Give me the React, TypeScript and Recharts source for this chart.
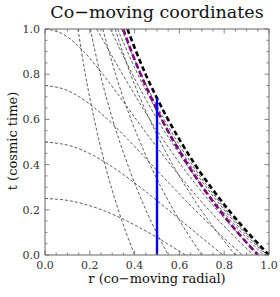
import { LineChart, Line, XAxis, YAxis } from "recharts";

// tick positions (minor every 0.05, labelled every 0.2)
const axisTicks = [0, 0.05, 0.1, 0.15, 0.2, 0.25, 0.3, 0.35, 0.4, 0.45, 0.5, 0.55, 0.6, 0.65, 0.7, 0.75, 0.8, 0.85, 0.9, 0.95, 1];
const majorTicks = [0, 0.2, 0.4, 0.6, 0.8, 1];

// curves as [r, t] pairs
const horizon = [[0.368, 1], [0.407, 0.9], [0.449, 0.8], [0.497, 0.7], [0.549, 0.6], [0.607, 0.5], [0.67, 0.4], [0.741, 0.3], [0.819, 0.2], [0.905, 0.1], [1, 0]];
const purpleCurve = [[0.349, 1], [0.386, 0.9], [0.427, 0.8], [0.472, 0.7], [0.521, 0.6], [0.576, 0.5], [0.637, 0.4], [0.704, 0.3], [0.778, 0.2], [0.86, 0.1], [0.95, 0]];
const galaxy = [[0.5, 0], [0.5, 0.693]];

const fixedA = [[0.147, 1], [0.18, 0.8], [0.22, 0.6], [0.268, 0.4], [0.327, 0.2], [0.4, 0]];
const fixedB = [[0.202, 1], [0.247, 0.8], [0.302, 0.6], [0.369, 0.4], [0.45, 0.2], [0.55, 0]];
const fixedC = [[0.258, 1], [0.315, 0.8], [0.384, 0.6], [0.469, 0.4], [0.573, 0.2], [0.7, 0]];
const fixedD = [[0.313, 1], [0.382, 0.8], [0.467, 0.6], [0.57, 0.4], [0.696, 0.2], [0.85, 0]];

const slice1 = [[0, 0.25], [0.111, 0.24], [0.176, 0.225], [0.253, 0.2], [0.367, 0.15], [0.461, 0.1], [0.546, 0.05], [0.627, 0]];
const slice2 = [[0, 0.5], [0.123, 0.48], [0.197, 0.45], [0.285, 0.4], [0.425, 0.3], [0.55, 0.2], [0.671, 0.1], [0.795, 0]];
const slice3 = [[0, 0.75], [0.095, 0.73], [0.153, 0.7], [0.222, 0.65], [0.28, 0.6], [0.381, 0.5], [0.476, 0.4], [0.571, 0.3], [0.669, 0.2], [0.772, 0.1], [0.881, 0]];
const slice4 = [[0, 1], [0.075, 0.98], [0.12, 0.95], [0.173, 0.9], [0.258, 0.8], [0.334, 0.7], [0.407, 0.6], [0.482, 0.5], [0.56, 0.4], [0.643, 0.3], [0.731, 0.2], [0.827, 0.1], [0.93, 0]];
const slice5 = [[0.231, 1], [0.288, 0.9], [0.346, 0.8], [0.406, 0.7], [0.468, 0.6], [0.535, 0.5], [0.606, 0.4], [0.683, 0.3], [0.767, 0.2], [0.858, 0.1], [0.958, 0]];
const slice6 = [[0.292, 1], [0.34, 0.9], [0.39, 0.8], [0.444, 0.7], [0.501, 0.6], [0.564, 0.5], [0.632, 0.4], [0.706, 0.3], [0.788, 0.2], [0.877, 0.1], [0.975, 0]];
const slice7 = [[0.324, 1], [0.414, 0.8], [0.521, 0.6], [0.647, 0.4], [0.8, 0.2], [0.888, 0.1], [0.985, 0]];
const slice8 = [[0.342, 1], [0.429, 0.8], [0.532, 0.6], [0.657, 0.4], [0.808, 0.2], [0.895, 0.1], [0.991, 0]];

const thinCurves = [fixedA, fixedB, fixedC, fixedD, slice1, slice2, slice3, slice4, slice5, slice6, slice7, slice8];

const toRows = (pts: number[][]) => pts.map(([r, t]) => ({ r, t }));

const frame = "#666";
const serif = "'DejaVu Serif', serif";

function FrameTick(props: any) {
  const { x, y, payload, side } = props;
  const v = payload.value;
  const major = majorTicks.some((m) => Math.abs(m - v) < 1e-6);
  const len = major ? 4.5 : 2.5;
  const label = major ? v.toFixed(1) : null;
  if (side === "bottom")
    return (
      <g>
        <line x1={x} x2={x} y1={y} y2={y - len} stroke={frame} strokeWidth={0.8} />
        {label && <text x={x} y={y + 13.5} textAnchor="middle" fontSize={11} fontFamily={serif} fill="#333">{label}</text>}
      </g>
    );
  if (side === "top")
    return <line x1={x} x2={x} y1={y} y2={y + len} stroke={frame} strokeWidth={0.8} />;
  if (side === "left")
    return (
      <g>
        <line x1={x} x2={x + len} y1={y} y2={y} stroke={frame} strokeWidth={0.8} />
        {label && <text x={x - 5} y={y + 4} textAnchor="end" fontSize={11} fontFamily={serif} fill="#333">{label}</text>}
      </g>
    );
  return <line x1={x} x2={x - len} y1={y} y2={y} stroke={frame} strokeWidth={0.8} />;
}

export default function App() {
  return (
    <div style={{ position: "absolute", left: 0, top: 0, width: 280, height: 297, background: "#fff" }}>
      <div style={{ position: "absolute", left: 0, top: 0, width: 314, textAlign: "center", fontFamily: serif, fontSize: 17.5, lineHeight: "24px", color: "#111" }}>
        Co−moving coordinates
      </div>
      <LineChart width={280} height={297} margin={{ top: 0, right: 0, bottom: 0, left: 0 }}>
        <XAxis xAxisId="b" dataKey="r" type="number" domain={[0, 1]} ticks={axisTicks} interval={0} height={42}
          allowDataOverflow stroke={frame} tickSize={0} tickMargin={0} tick={(p: any) => <FrameTick {...p} side="bottom" />} />
        <XAxis xAxisId="tp" orientation="top" dataKey="r" type="number" domain={[0, 1]} ticks={axisTicks} interval={0} height={29}
          allowDataOverflow stroke={frame} tickSize={0} tickMargin={0} tick={(p: any) => <FrameTick {...p} side="top" />} />
        <YAxis yAxisId="l" type="number" domain={[0, 1]} ticks={axisTicks} interval={0} width={45}
          allowDataOverflow stroke={frame} tickSize={0} tickMargin={0} tick={(p: any) => <FrameTick {...p} side="left" />} />
        <YAxis yAxisId="rt" orientation="right" type="number" domain={[0, 1]} ticks={axisTicks} interval={0} width={11}
          allowDataOverflow stroke={frame} tickSize={0} tickMargin={0} tick={(p: any) => <FrameTick {...p} side="right" />} />
        {thinCurves.map((c, i) => (
          <Line key={i} xAxisId="b" yAxisId="l" data={toRows(c)} dataKey="t" type="monotone" stroke="#333"
            strokeWidth={0.8} strokeDasharray="3 2" dot={false} isAnimationActive={false} />
        ))}
        <Line xAxisId="b" yAxisId="l" data={toRows(horizon)} dataKey="t" type="monotone" stroke="#000"
          strokeWidth={2.6} strokeDasharray="5 3" dot={false} isAnimationActive={false} />
        <Line xAxisId="b" yAxisId="l" data={toRows(purpleCurve)} dataKey="t" type="monotone" stroke="#800080"
          strokeWidth={2.6} strokeDasharray="6 3" dot={false} isAnimationActive={false} />
        <Line xAxisId="b" yAxisId="l" data={toRows(galaxy)} dataKey="t" type="linear" stroke="#0000ff"
          strokeWidth={2.4} dot={false} isAnimationActive={false} />
      </LineChart>
      <div style={{ position: "absolute", left: 0, top: 271, width: 314, textAlign: "center", fontFamily: serif, fontSize: 13, lineHeight: "15px", color: "#111" }}>
        r (co−moving radial)
      </div>
      <div style={{ position: "absolute", left: 12, top: 141, width: 0, height: 0 }}>
        <div style={{ position: "absolute", transform: "translate(-50%, -50%) rotate(-90deg)", whiteSpace: "nowrap", fontFamily: serif, fontSize: 13, lineHeight: "15px", color: "#111" }}>
          t (cosmic time)
        </div>
      </div>
    </div>
  );
}
